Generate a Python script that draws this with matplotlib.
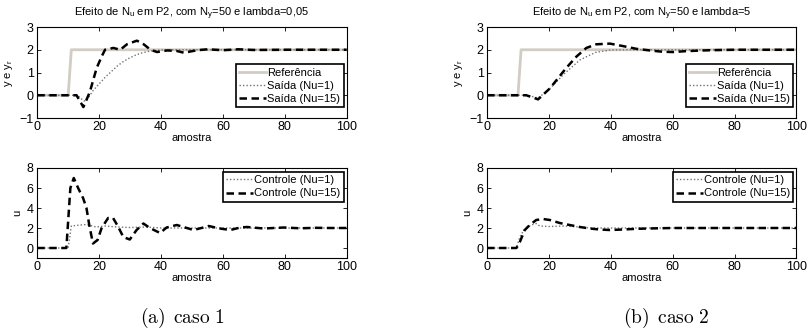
import matplotlib
matplotlib.use("Agg")
import matplotlib.pyplot as plt

plt.rcParams['font.family'] = ['Liberation Sans', 'DejaVu Sans']
plt.rcParams['mathtext.fontset'] = 'custom'
plt.rcParams['mathtext.rm'] = 'Liberation Sans'
plt.rcParams['mathtext.it'] = 'Liberation Sans'

# reference signal
ref_x = [0, 10, 11, 100]
ref_y = [0, 0, 2, 2]

# caso 1 (lambda = 0,05)
y1_nu1_x = [0, 13, 15, 16, 18, 20, 22, 24, 26, 28, 30, 32, 34, 36, 38, 40, 45, 100]
y1_nu1_y = [0, 0, -0.25, -0.22, 0.2, 0.5, 0.8, 1.05, 1.3, 1.5, 1.65, 1.78, 1.87, 1.93, 1.97, 1.99, 2.0, 2.0]
y1_nu15_x = [0, 12.7, 14.9, 17, 19.2, 20.8, 21.9, 24.6, 26.8, 29, 32.2, 34.4, 36.6, 38.7, 42, 45,
             47.4, 51.7, 55, 60, 65, 70, 80, 90, 100]
y1_nu15_y = [0, 0, -0.52, 0.15, 1.2, 1.7, 2.0, 2.08, 2.0, 2.24, 2.4, 2.24, 2.0, 1.9, 1.97, 1.95,
             1.87, 1.98, 2.02, 1.98, 2.02, 1.99, 2.0, 2.0, 2.0]
u1_nu1_x = [0, 10, 11, 14, 16, 19, 22, 26, 30, 35, 40, 50, 100]
u1_nu1_y = [0, 0, 2.2, 2.3, 2.35, 2.1, 2.2, 2.1, 2.05, 2.1, 2.0, 2.0, 2.0]
u1_nu15_x = [0, 9.4, 10.7, 11.8, 13.2, 14.8, 15.9, 16.8, 18, 19.5, 20.8, 22.9, 24.5, 26.2, 27.8,
             29.9, 32.1, 34.3, 36.4, 39.7, 41.8, 45.1, 47.8, 50.5, 53.7, 55.4, 59, 62.4, 65.6,
             67.8, 73.2, 79.7, 85, 90, 95, 100]
u1_nu15_y = [0, 0, 6.0, 7.0, 6.0, 5.0, 4.0, 2.3, 0.45, 0.8, 2.0, 3.0, 3.0, 2.1, 1.1,
             0.85, 1.8, 2.45, 2.0, 1.5, 2.05, 2.3, 2.05, 1.8, 2.05, 2.2, 1.95, 1.8, 2.05,
             2.1, 1.95, 2.05, 1.97, 2.02, 2.0, 2.0]

# caso 2 (lambda = 5)
y2_nu1_x = [0, 13, 16.5, 20, 25, 30, 35, 40, 45, 100]
y2_nu1_y = [0, 0, -0.12, 0.25, 0.95, 1.55, 1.88, 1.99, 2.0, 2.0]
y2_nu15_x = [0, 12.7, 16.5, 20.3, 25.6, 28.9, 32.1, 35.3, 39.7, 44, 48.3, 52.6, 56.9, 60, 64.4,
             72, 80, 100]
y2_nu15_y = [0, 0, -0.18, 0.3, 1.2, 1.7, 2.08, 2.24, 2.27, 2.16, 2.04, 1.97, 1.91, 1.9, 1.94,
             1.98, 2.0, 2.0]
u2_nu1_x = [0, 9.5, 10.6, 12.2, 14.3, 15.9, 17, 20, 25, 30, 33, 100]
u2_nu1_y = [0, 0, 1.1, 1.95, 2.3, 2.45, 2.2, 2.15, 2.2, 2.1, 2.0, 2.0]
u2_nu15_x = [0, 9.5, 10.6, 12.2, 13.8, 15.9, 18.1, 20.3, 23.5, 26.7, 30, 33.2, 36.4, 39.7, 44,
             48.3, 55, 60, 100]
u2_nu15_y = [0, 0, 0.6, 1.8, 2.3, 2.8, 2.9, 2.8, 2.5, 2.3, 2.1, 1.95, 1.85, 1.8, 1.85,
             1.92, 1.97, 2.0, 2.0]

titles = ["Efeito de N$_u$ em P2, com N$_y$=50 e lambda=0,05",
          "Efeito de N$_u$ em P2, com N$_y$=50 e lambda=5"]
captions = ["(a)\\ \\,caso\\ 1", "(b)\\ \\,caso\\ 2"]

cases = [
    (y1_nu1_x, y1_nu1_y, y1_nu15_x, y1_nu15_y, u1_nu1_x, u1_nu1_y, u1_nu15_x, u1_nu15_y),
    (y2_nu1_x, y2_nu1_y, y2_nu15_x, y2_nu15_y, u2_nu1_x, u2_nu1_y, u2_nu15_x, u2_nu15_y),
]

ref_color = (0.82, 0.80, 0.77)
dot_kw = dict(color='0.45', lw=1.0, linestyle=(0, (1, 1.5)))
dash_kw = dict(color='black', lw=1.8, linestyle=(0, (3, 1.8)))

fig = plt.figure(figsize=(8.12, 3.33), dpi=100)

lefts = [0.0459, 0.5998]
width = 0.381
cap_x = [0.225, 0.82]


def style(ax):
    ax.tick_params(direction='in', top=True, right=True, length=3, width=0.6,
                   labelsize=9, pad=2.5)
    for s in ax.spines.values():
        s.set_linewidth(0.8)
    ax.set_xlim(0, 100)
    ax.set_xticks([0, 20, 40, 60, 80, 100])
    ax.set_xlabel("amostra", fontsize=8, labelpad=0)


def make_legend(ax, loc, anchor):
    leg = ax.legend(loc=loc, bbox_to_anchor=anchor, borderaxespad=0,
                    fontsize=8, fancybox=False, edgecolor='black', framealpha=1,
                    handlelength=2.4, handletextpad=0.1, labelspacing=0.28,
                    borderpad=0.3)
    leg.get_frame().set_linewidth(1.2)


for i, (a, b, c, d, e, f, g, h) in enumerate(cases):
    ax = fig.add_axes([lefts[i], 0.6456, width, 0.2733])
    ax.plot(ref_x, ref_y, color=ref_color, lw=2, label="Referência")
    ax.plot(a, b, label="Saída (Nu=1)", **dot_kw)
    ax.plot(c, d, label="Saída (Nu=15)", **dash_kw)
    style(ax)
    ax.set_ylim(-1, 3)
    ax.set_yticks([-1, 0, 1, 2, 3])
    ax.set_ylabel("y e y$_r$", fontsize=8, labelpad=3)
    ax.set_title(titles[i], fontsize=8, pad=8)
    make_legend(ax, 'lower right', (0.99, 0.12))

    ax2 = fig.add_axes([lefts[i], 0.2252, width, 0.2703])
    ax2.plot(e, f, label="Controle (Nu=1)", **dot_kw)
    ax2.plot(g, h, label="Controle (Nu=15)", **dash_kw)
    style(ax2)
    ax2.set_ylim(-1, 8)
    ax2.set_yticks([0, 2, 4, 6, 8])
    ax2.set_ylabel("u", fontsize=8, labelpad=3)
    make_legend(ax2, 'upper right', (0.99, 0.955))

    fig.text(cap_x[i], 0.045, "$\\mathrm{" + captions[i] + "}$", ha='center', va='center',
             fontsize=14, math_fontfamily='cm')

fig.savefig("out.png", dpi=100)
